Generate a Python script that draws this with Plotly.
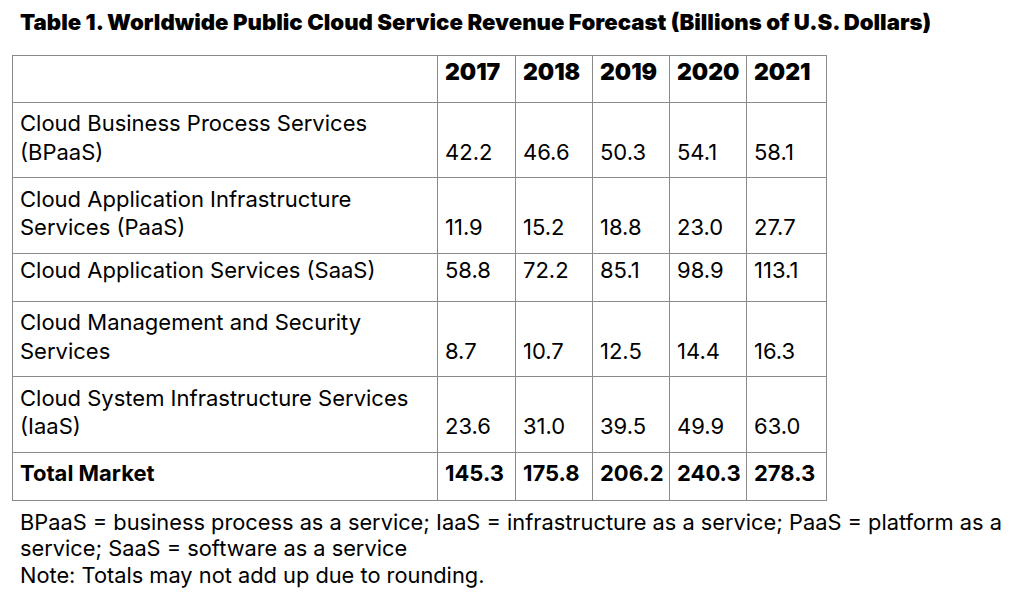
import plotly.graph_objects as go

title = "Table 1. Worldwide Public Cloud Service Revenue Forecast (Billions of U.S. Dollars)"
years = ["2017", "2018", "2019", "2020", "2021"]
categories = [
    "Cloud Business Process Services<br>(BPaaS)",
    "Cloud Application Infrastructure<br>Services (PaaS)",
    "Cloud Application Services (SaaS)",
    "Cloud Management and Security<br>Services",
    "Cloud System Infrastructure Services<br>(IaaS)",
]
total_label = "Total Market"
v2017 = [42.2, 11.9, 58.8, 8.7, 23.6]
v2018 = [46.6, 15.2, 72.2, 10.7, 31.0]
v2019 = [50.3, 18.8, 85.1, 12.5, 39.5]
v2020 = [54.1, 23.0, 98.9, 14.4, 49.9]
v2021 = [58.1, 27.7, 113.1, 16.3, 63.0]
totals = [145.3, 175.8, 206.2, 240.3, 278.3]
footnote = [
    "BPaaS = business process as a service; IaaS = infrastructure as a service; PaaS = platform as a",
    "service; SaaS = software as a service",
    "Note: Totals may not add up due to rounding.",
]

W, H = 1024, 598
FONT = "Inter, 'Open Sans', sans-serif"
LINE = "#8a8a8a"
PAD = 8  # plotly table inner cell padding, compensated so text sits where it should
SPACER = "<span style='font-size:42px'>\u00a0</span>"  # invisible, adds bottom room to 2-line rows

series = [v2017, v2018, v2019, v2020, v2021]
label_col = [c + SPACER if "<br>" in c else c for c in categories] + ["<b>" + total_label + "</b>"]
value_cols = []
for s, t in zip(series, totals):
    col = []
    for cat, v in zip(categories, s):
        prefix = "\u00a0<br>" if "<br>" in cat else ""
        col.append(prefix + f"{v:.1f}")
    col.append(f"<b>{t:.1f}</b>")
    value_cols.append(col)

fig = go.Figure(go.Table(
    domain=dict(x=[(20 - PAD) / W, (834 - PAD) / W], y=[0.0, 1 - 55 / H]),
    columnwidth=[425, 78, 77, 77, 77, 80],
    header=dict(
        values=[""] + years,
        align="left",
        fill=dict(color="white"),
        line=dict(color=LINE, width=1),
        font=dict(family=FONT, size=23, color="black", weight=900),
        height=47,
    ),
    cells=dict(
        values=[label_col] + value_cols,
        align="left",
        fill=dict(color="white"),
        line=dict(color=LINE, width=1),
        font=dict(family=FONT, size=22, color="black"),
        height=48,
    ),
))

fig.add_annotation(
    text=title, x=18 / W, y=1 - 22 / H, xref="paper", yref="paper",
    xanchor="left", yanchor="middle", showarrow=False,
    font=dict(family=FONT, size=22.2, color="black", weight=900),
)
for line, yc in zip(footnote, [522, 548, 575]):
    fig.add_annotation(
        text=line, x=18 / W, y=1 - yc / H, xref="paper", yref="paper",
        xanchor="left", yanchor="middle", align="left", showarrow=False,
        font=dict(family=FONT, size=21.8, color="black"),
    )

fig.update_layout(
    width=W, height=H, margin=dict(l=0, r=0, t=0, b=0),
    paper_bgcolor="white", plot_bgcolor="white",
)
fig.write_html("out.html", config={"displayModeBar": False},
               post_script="document.body.style.margin='0';")
